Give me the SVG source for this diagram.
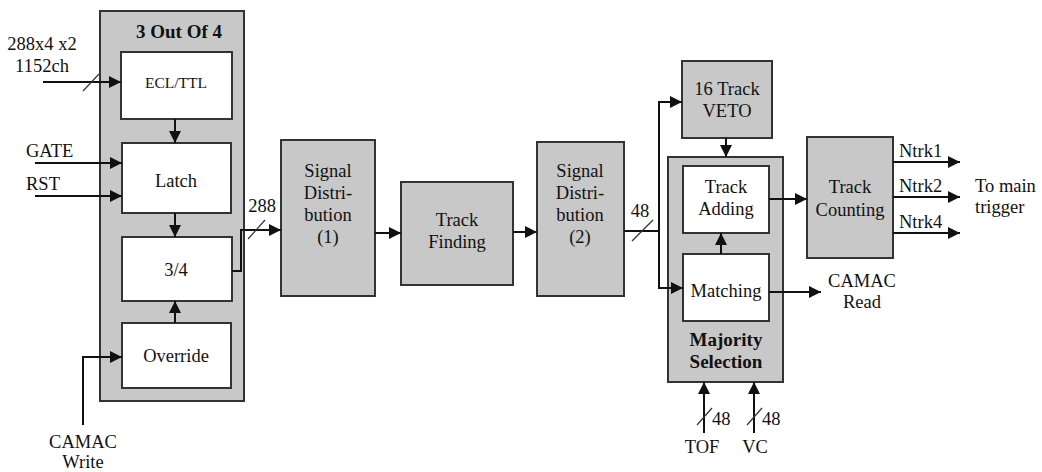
<svg xmlns="http://www.w3.org/2000/svg" width="1042" height="472" viewBox="0 0 1042 472" font-family="'Liberation Serif', 'Times New Roman', 'DejaVu Serif', serif">
  <defs>
    <marker id="arrow" markerUnits="userSpaceOnUse" markerWidth="13" markerHeight="12" refX="12" refY="6" orient="auto">
      <path d="M0,0 L12,6 L0,12 z" fill="#111"/>
    </marker>
    <style>
      .gray { fill: #c8c8c8; stroke: #333; stroke-width: 2; }
      .white { fill: #fff; stroke: #333; stroke-width: 2; }
      text { font-family: 'Liberation Serif', 'Times New Roman', 'DejaVu Serif', serif; }
      .t { font-size: 18.5px; fill: #111; text-anchor: middle; }
      .b { font-weight: bold; font-size: 19px; }
      .s { font-size: 15.5px; }
      .l { text-anchor: start; }
      .w { fill: none; stroke: #111; stroke-width: 2; }
      .a { marker-end: url(#arrow); }
      .slash { stroke: #333; stroke-width: 1.2; }
    </style>
  </defs>
  <rect width="1042" height="472" fill="#fff"/>

  <!-- 3 Out Of 4 block -->
  <g id="three-out-of-four">
    <rect class="gray" x="100" y="11" width="144" height="390"/>
    <text class="t b" x="179" y="38">3 Out Of 4</text>
  </g>
  <g id="ecl-ttl">
    <rect class="white" x="121" y="52" width="111" height="67"/>
    <text class="t s" x="176" y="88">ECL/TTL</text>
  </g>
  <g id="latch">
    <rect class="white" x="122" y="143" width="109" height="70"/>
    <text class="t" x="176" y="187">Latch</text>
  </g>
  <g id="three-four">
    <rect class="white" x="122" y="237" width="110" height="64"/>
    <text class="t" x="176" y="276">3/4</text>
  </g>
  <g id="override">
    <rect class="white" x="122" y="323" width="109" height="65"/>
    <text class="t" x="176" y="362">Override</text>
  </g>

  <!-- Processing chain -->
  <g id="signal-distribution-1">
    <rect class="gray" x="281" y="140" width="94" height="156"/>
    <text class="t" x="328" y="177">Signal</text>
    <text class="t" x="328" y="199">Distri-</text>
    <text class="t" x="328" y="221">bution</text>
    <text class="t" x="328" y="243">(1)</text>
  </g>
  <g id="track-finding">
    <rect class="gray" x="401" y="182" width="112" height="103"/>
    <text class="t" x="457" y="226">Track</text>
    <text class="t" x="457" y="248">Finding</text>
  </g>
  <g id="signal-distribution-2">
    <rect class="gray" x="537" y="142" width="87" height="154"/>
    <text class="t" x="580" y="177">Signal</text>
    <text class="t" x="580" y="199">Distri-</text>
    <text class="t" x="580" y="221">bution</text>
    <text class="t" x="580" y="243">(2)</text>
  </g>
  <g id="veto">
    <rect class="gray" x="682" y="61" width="90" height="77"/>
    <text class="t" x="727" y="95">16 Track</text>
    <text class="t" x="727" y="117">VETO</text>
  </g>
  <g id="majority-selection">
    <rect class="gray" x="668" y="157" width="115" height="225"/>
    <text class="t b" x="726" y="346">Majority</text>
    <text class="t b" x="726" y="368">Selection</text>
  </g>
  <g id="track-adding">
    <rect class="white" x="683" y="166" width="86" height="67"/>
    <text class="t" x="726" y="193">Track</text>
    <text class="t" x="726" y="215">Adding</text>
  </g>
  <g id="matching">
    <rect class="white" x="683" y="254" width="86" height="67"/>
    <text class="t" x="726" y="297">Matching</text>
  </g>
  <g id="track-counting">
    <rect class="gray" x="807" y="137" width="86" height="121"/>
    <text class="t" x="850" y="193">Track</text>
    <text class="t" x="850" y="216">Counting</text>
  </g>

  <!-- Connectors -->
  <g id="connectors">
    <!-- inputs to the 3 Out Of 4 block -->
    <line class="w a" x1="43" y1="82" x2="121" y2="82"/>
    <line class="slash" x1="83" y1="91" x2="99" y2="74"/>
    <line class="w a" x1="35" y1="163" x2="122" y2="163"/>
    <line class="w a" x1="35" y1="196" x2="122" y2="196"/>
    <polyline class="w a" points="83,425 83,357 122,357"/>
    <line class="w a" x1="175" y1="119" x2="175" y2="143"/>
    <line class="w a" x1="175" y1="213" x2="175" y2="237"/>
    <line class="w a" x1="175" y1="323" x2="175" y2="301"/>
    <!-- 288 bus -->
    <polyline class="w a" points="232,271 241,271 241,230 281,230"/>
    <line class="slash" x1="248" y1="239" x2="265" y2="220"/>
    <!-- main chain -->
    <line class="w a" x1="375" y1="233" x2="401" y2="233"/>
    <line class="w a" x1="513" y1="232" x2="537" y2="232"/>
    <!-- 48 bus split -->
    <polyline class="w" points="624,231 659,231"/>
    <polyline class="w a" points="659,288 659,102 682,102"/>
    <polyline class="w a" points="659,231 659,288 683,288"/>
    <line class="slash" x1="632" y1="241" x2="653" y2="220"/>
    <line class="w a" x1="726" y1="138" x2="726" y2="157"/>
    <line class="w a" x1="721" y1="254" x2="721" y2="233"/>
    <line class="w a" x1="769" y1="199" x2="807" y2="199"/>
    <line class="w a" x1="769" y1="292" x2="821" y2="292"/>
    <!-- TOF / VC inputs -->
    <line class="w a" x1="704" y1="433" x2="704" y2="382"/>
    <line class="slash" x1="697" y1="425" x2="712" y2="408"/>
    <line class="w a" x1="754" y1="433" x2="754" y2="382"/>
    <line class="slash" x1="747" y1="425" x2="762" y2="408"/>
    <!-- outputs -->
    <line class="w a" x1="893" y1="162" x2="960" y2="162"/>
    <line class="w a" x1="893" y1="197" x2="960" y2="197"/>
    <line class="w a" x1="893" y1="233" x2="960" y2="233"/>
  </g>

  <!-- Signal labels -->
  <g id="labels">
    <text class="t" x="42" y="50">288x4 x2</text>
    <text class="t" x="42" y="72">1152ch</text>
    <text class="t l" x="26" y="157">GATE</text>
    <text class="t l" x="26" y="190">RST</text>
    <text class="t" x="83" y="448">CAMAC</text>
    <text class="t" x="83" y="468">Write</text>
    <text class="t" x="262" y="212">288</text>
    <text class="t" x="640" y="217">48</text>
    <text class="t l" x="712" y="425">48</text>
    <text class="t l" x="762" y="425">48</text>
    <text class="t" x="702" y="453">TOF</text>
    <text class="t" x="755" y="453">VC</text>
    <text class="t" x="862" y="287">CAMAC</text>
    <text class="t" x="862" y="308">Read</text>
    <text class="t l" x="899" y="157">Ntrk1</text>
    <text class="t l" x="899" y="192">Ntrk2</text>
    <text class="t l" x="899" y="228">Ntrk4</text>
    <text class="t l" x="975" y="192">To main</text>
    <text class="t l" x="975" y="213">trigger</text>
  </g>
</svg>
